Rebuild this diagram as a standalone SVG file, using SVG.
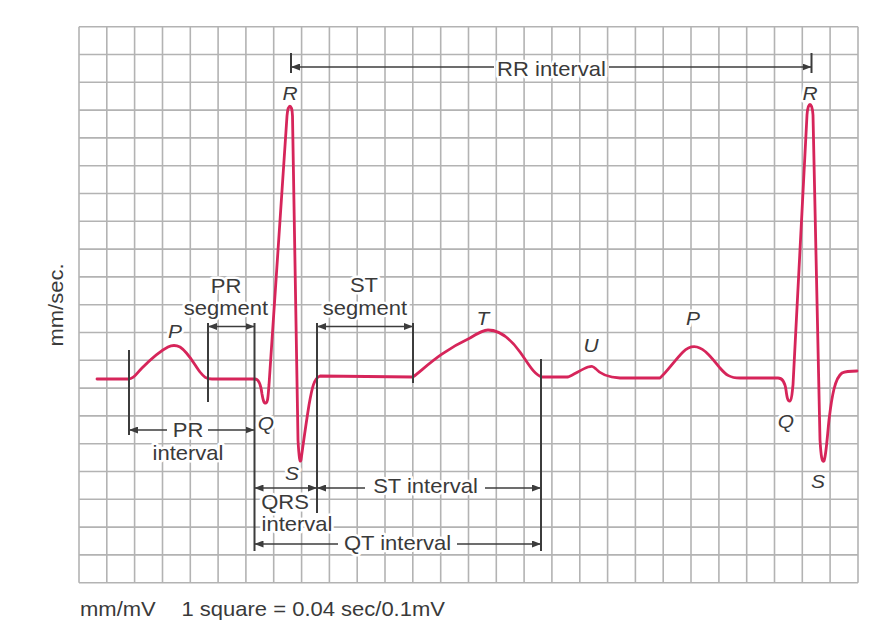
<svg xmlns="http://www.w3.org/2000/svg" width="892" height="634" viewBox="0 0 892 634">
<style>
.grid{stroke:#b3b3b3;stroke-width:1.6;fill:none}
.trace{stroke:#d6255a;stroke-width:2.8;fill:none;stroke-linejoin:round;stroke-linecap:round}
.dim{stroke:#3c3c3c;stroke-width:1.5;fill:none}
.vl{stroke:#3c3c3c;stroke-width:2;fill:none}
.t{font-family:"Liberation Sans",Arial,sans-serif;font-size:20px;fill:#3a3a3a;text-anchor:middle;stroke:#fff;stroke-width:5;paint-order:stroke;stroke-linejoin:round}
.lbl{font-family:"Liberation Sans",Arial,sans-serif;font-size:19px;font-style:italic;fill:#3a3a3a;text-anchor:middle;stroke:#fff;stroke-width:5;paint-order:stroke;stroke-linejoin:round}
</style>
<defs>
<marker id="ah" markerUnits="userSpaceOnUse" markerWidth="9" markerHeight="7" refX="9" refY="3.5" orient="auto-start-reverse" viewBox="0 0 9 7">
<path d="M0,0 L9,3.5 L0,7 z" fill="#3c3c3c"/>
</marker>
</defs>
<rect width="892" height="634" fill="#fff"/>
<g id="grid" class="grid">
<path d="M79,26.7V582.7M106.8,26.7V582.7M134.6,26.7V582.7M162.5,26.7V582.7M190.3,26.7V582.7M218.1,26.7V582.7M245.9,26.7V582.7M273.7,26.7V582.7M301.6,26.7V582.7M329.4,26.7V582.7M357.2,26.7V582.7M385,26.7V582.7M412.8,26.7V582.7M440.7,26.7V582.7M468.5,26.7V582.7M496.3,26.7V582.7M524.1,26.7V582.7M551.9,26.7V582.7M579.8,26.7V582.7M607.6,26.7V582.7M635.4,26.7V582.7M663.2,26.7V582.7M691,26.7V582.7M718.9,26.7V582.7M746.7,26.7V582.7M774.5,26.7V582.7M802.3,26.7V582.7M830.1,26.7V582.7M858,26.7V582.7"/>
<path d="M79,26.7H858M79,54.5H858M79,82.3H858M79,110.1H858M79,137.9H858M79,165.7H858M79,193.5H858M79,221.3H858M79,249.1H858M79,276.9H858M79,304.7H858M79,332.5H858M79,360.3H858M79,388.1H858M79,415.9H858M79,443.7H858M79,471.5H858M79,499.3H858M79,527.1H858M79,554.9H858M79,582.7H858"/>
</g>
<g id="ecg-trace">
<path class="trace" d="M97,379 L128,379 C134,379 136,374 142,368 C150,360 160,351 168,347 C172,345 176,345 180,347 C188,352 194,364 200,372 C204,377 206,379 212,379 L255,379 C259,379 261,386 262,394 C263,400 264,404 266,403 C268,402 268,396 269,385 L287,116 C288,103 292,103 292.5,116 L298,440 C299,458 300,464 301,460 C303,446 305,430 309,405 C312,388 314,378 320,376 L413,377 C425,368 440,352 470,338 C478,333 483,330 488,330 C500,330 510,338 520,352 C528,363 534,375 542,377 L568,377 C575,374 582,369 588,367 C592,366 593,366 596,369 C600,374 606,377 620,378 L660,378 C667,372 675,360 683,352 C688,347 692,346 697,347 C705,349 712,358 720,368 C726,375 730,378 740,378 L778,378 C783,378 785,383 786,390 C787,398 788,402 790,401 C792,400 792,393 793,385 L807,115 C808,101 812,101 813,115 L820,440 C821,456 822,463 824,461 C826,456 827,440 829,420 C832,395 835,378 842,373 C846,371 850,371 857,371"/>
</g>
<g id="connectors">
<path class="vl" d="M291,53V73M811.5,53V73M129,350V435M208,323V402M254.5,323V551M317,323V513M413,323V383M541,359V551"/>
<path class="dim" d="M494,67H291" marker-end="url(#ah)"/>
<path class="dim" d="M609,67H811.5" marker-end="url(#ah)"/>
<path class="dim" d="M208,326.5H254.5" marker-start="url(#ah)" marker-end="url(#ah)"/>
<path class="dim" d="M317,326.5H413" marker-start="url(#ah)" marker-end="url(#ah)"/>
<path class="dim" d="M167,430H129" marker-end="url(#ah)"/>
<path class="dim" d="M208,430H254.5" marker-end="url(#ah)"/>
<path class="dim" d="M254.5,488H317" marker-start="url(#ah)" marker-end="url(#ah)"/>
<path class="dim" d="M365,488H317" marker-end="url(#ah)"/>
<path class="dim" d="M485,488H541" marker-end="url(#ah)"/>
<path class="dim" d="M338,544H254.5" marker-end="url(#ah)"/>
<path class="dim" d="M457,544H541" marker-end="url(#ah)"/>
</g>
<g id="wave-labels">
<text class="lbl" transform="translate(290,99.5) scale(1.1,1)">R</text>
<text class="lbl" transform="translate(810,99.5) scale(1.1,1)">R</text>
<text class="lbl" transform="translate(175,338) scale(1.1,1)">P</text>
<text class="lbl" transform="translate(483,325) scale(1.1,1)">T</text>
<text class="lbl" transform="translate(591,352) scale(1.1,1)">U</text>
<text class="lbl" transform="translate(693,325) scale(1.1,1)">P</text>
<text class="lbl" transform="translate(266,430) scale(1.1,1)">Q</text>
<text class="lbl" transform="translate(292,480) scale(1.1,1)">S</text>
<text class="lbl" transform="translate(786,428) scale(1.1,1)">Q</text>
<text class="lbl" transform="translate(818,488) scale(1.1,1)">S</text>
</g>
<g id="interval-labels">
<text class="t" transform="translate(551.5,76) scale(1.1,1)">RR interval</text>
<text class="t" transform="translate(226,293) scale(1.1,1)">PR</text>
<text class="t" transform="translate(226,315) scale(1.1,1)">segment</text>
<text class="t" transform="translate(364,292) scale(1.1,1)">ST</text>
<text class="t" transform="translate(365,315) scale(1.1,1)">segment</text>
<text class="t" transform="translate(188,437) scale(1.1,1)">PR</text>
<text class="t" transform="translate(188,460) scale(1.1,1)">interval</text>
<text class="t" transform="translate(285,509) scale(1.1,1)">QRS</text>
<text class="t" transform="translate(297,531) scale(1.1,1)">interval</text>
<text class="t" transform="translate(425.5,493) scale(1.1,1)">ST interval</text>
<text class="t" transform="translate(397.5,550) scale(1.1,1)">QT interval</text>
</g>
<g id="axis-labels">
<text class="t" transform="translate(63,305) rotate(-90) scale(1.1,1)">mm/sec.</text>
<text class="t" style="text-anchor:start;stroke:none" transform="translate(80,616) scale(1.1,1)">mm/mV</text>
<text class="t" style="text-anchor:start;stroke:none" transform="translate(181.5,616) scale(1.1,1)">1 square = 0.04 sec/0.1mV</text>
</g>
</svg>
